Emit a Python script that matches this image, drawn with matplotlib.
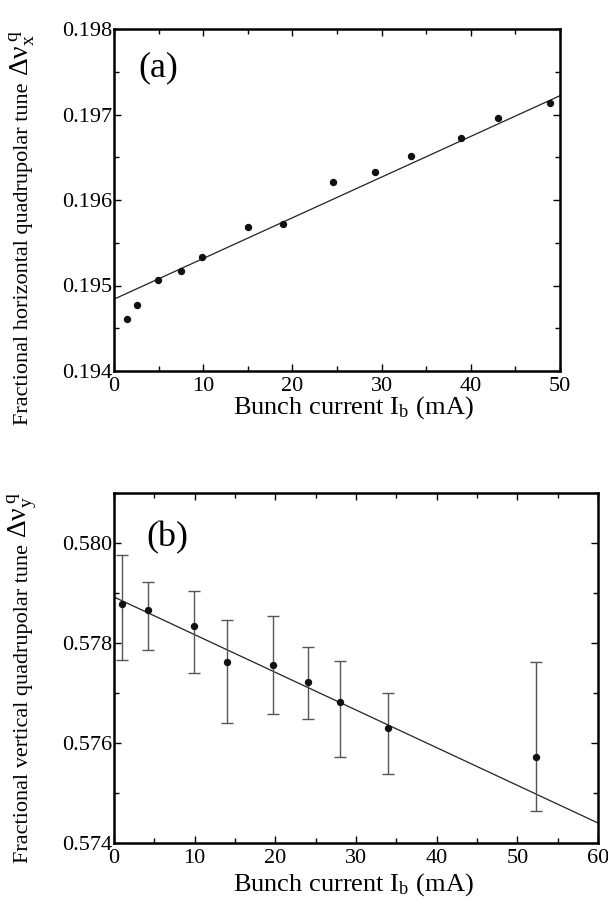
import matplotlib
matplotlib.use("Agg")
import matplotlib.pyplot as plt
from matplotlib.ticker import MultipleLocator, FormatStrFormatter
import numpy as np

plt.rcParams['font.family'] = ['Liberation Serif', 'DejaVu Serif']
plt.rcParams['mathtext.fontset'] = 'stix'

# ---- data panel (a) ----
ib_a = [1.5, 2.6, 4.9, 7.5, 9.9, 15.0, 19.0, 24.6, 29.3, 33.3, 38.9, 43.0, 48.9]
tune_x = [0.19461, 0.19477, 0.19506, 0.19517, 0.19533, 0.19568, 0.19572,
          0.19621, 0.19633, 0.19652, 0.19672, 0.19696, 0.19713]
fit_a_x = [0, 50]
fit_a_y = [0.19484, 0.19722]

# ---- data panel (b) ----
ib_b = [1.05, 4.26, 9.92, 13.96, 19.67, 24.1, 28.05, 34.0, 52.36]
tune_y = [0.57879, 0.57867, 0.57834, 0.57763, 0.57757, 0.57723, 0.57682, 0.57630, 0.57573]
err_hi = [0.57976, 0.57923, 0.57903, 0.57847, 0.57855, 0.57792, 0.57765, 0.57700, 0.57762]
err_lo = [0.57767, 0.57787, 0.57741, 0.57641, 0.57658, 0.57648, 0.57573, 0.57537, 0.57465]
fit_b_x = [0, 60]
fit_b_y = [0.57892, 0.57440]

W, H = 608, 915
fig = plt.figure(figsize=(W / 100, H / 100), dpi=100)

def axes_px(l, r, t, b):
    return fig.add_axes([l / W, 1 - b / H, (r - l) / W, (b - t) / H])

ax1 = axes_px(114, 560, 29, 371)
ax2 = axes_px(114, 598, 493, 843)

for ax in (ax1, ax2):
    for s in ax.spines.values():
        s.set_linewidth(1.8)
    ax.tick_params(which='both', direction='in', top=True, right=True,
                   labelsize=16, width=1.0)
    ax.tick_params(axis='y', which='both', pad=1.5)
    ax.tick_params(axis='x', which='both', pad=4)
    ax.tick_params(which='major', length=5)
    ax.tick_params(which='minor', length=3.5)

# panel (a)
ax1.plot(fit_a_x, fit_a_y, color='#222222', lw=0.9)
ax1.plot(ib_a, tune_x, 'o', color='#111111', ms=4.3)
ax1.set_xlim(0, 50)
ax1.set_ylim(0.194, 0.198)
ax1.xaxis.set_major_locator(MultipleLocator(10))
ax1.xaxis.set_minor_locator(MultipleLocator(5))
ax1.yaxis.set_major_locator(MultipleLocator(0.001))
ax1.yaxis.set_minor_locator(MultipleLocator(0.0005))
ax1.yaxis.set_major_formatter(FormatStrFormatter('%.3f'))
ax1.text(0.054, 0.886, '(a)', transform=ax1.transAxes, fontsize=26,
         va='center', ha='left')
ax1.set_xlabel(r'Bunch current I$_{\mathregular{b}}$ (mA)', fontsize=19)
ax1.xaxis.set_label_coords((353 - 114) / 446, -(394 - 371) / 342)

# panel (b)
ax2.plot(fit_b_x, fit_b_y, color='#222222', lw=0.9)
yerr = [np.array(tune_y) - np.array(err_lo), np.array(err_hi) - np.array(tune_y)]
ax2.errorbar(ib_b, tune_y, yerr=yerr, fmt='o', color='#111111', ms=4.3,
             ecolor='#555555', elinewidth=1.0, capsize=4, capthick=1.0)
ax2.set_xlim(0, 60)
ax2.set_ylim(0.574, 0.581)
ax2.xaxis.set_major_locator(MultipleLocator(10))
ax2.xaxis.set_minor_locator(MultipleLocator(5))
ax2.yaxis.set_major_locator(MultipleLocator(0.002))
ax2.yaxis.set_minor_locator(MultipleLocator(0.001))
ax2.yaxis.set_major_formatter(FormatStrFormatter('%.3f'))
ax2.text(0.066, 0.871, '(b)', transform=ax2.transAxes, fontsize=26,
         va='center', ha='left')
ax2.set_xlabel(r'Bunch current I$_{\mathregular{b}}$ (mA)', fontsize=19)
ax2.xaxis.set_label_coords((353 - 114) / 484, -(871 - 843) / 350)

# rotated y labels: words + larger symbol part
fig.canvas.draw()
renderer = fig.canvas.get_renderer()

def ylabel(words, sym, x_px, bottom_px):
    t = fig.text(x_px / W, 1 - bottom_px / H, words, rotation=90,
                 ha='center', va='bottom', fontsize=16)
    bb = t.get_window_extent(renderer)
    top_px = H - bb.y1
    fig.text((x_px - 2) / W, 1 - (top_px - 6) / H, sym, rotation=90,
             ha='center', va='bottom', fontsize=20)

ylabel('Fractional horizontal quadrupolar tune', r'$\mathregular{Δν_{x}^{\;q}}$', 24, 425)
ylabel('Fractional vertical quadrupolar tune', r'$\mathregular{Δν_{y}^{\;q}}$', 24, 863)

fig.savefig('out.png', dpi=100)
